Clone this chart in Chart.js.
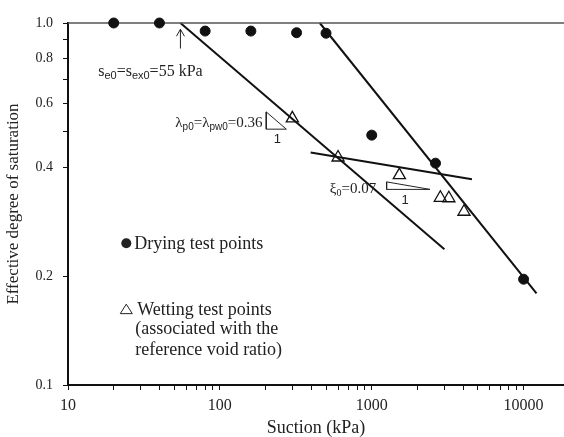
<!DOCTYPE html>
<html>
<head>
<meta charset="utf-8">
<script src="https://cdn.jsdelivr.net/npm/chart.js@4.4.1/dist/chart.umd.min.js"></script>
<style>
  html, body { margin: 0; padding: 0; background: #fff; }
</style>
</head>
<body>
<canvas id="chart" width="564" height="437"></canvas>
<script>
// drying test points (filled circles)
const dryX = [20, 40, 80, 160, 320, 500, 1000, 2630, 10000];
const dryY = [1.0, 1.0, 0.95, 0.95, 0.94, 0.937, 0.49, 0.41, 0.196];

// wetting test points (open triangles)
const wetX = [300, 600, 1520, 2830, 3220, 4050];
const wetY = [0.545, 0.425, 0.38, 0.329, 0.328, 0.301];

// fitted lines (end points)
const topLineX = [10, 18450];
const topLineY = [1.0, 1.0];
const lambdaX = [55, 3010];
const lambdaY = [1.0, 0.237];
const xiX = [396, 4570];
const xiY = [0.439, 0.370];
const dryLineX = [455, 12160];
const dryLineY = [1.0, 0.179];

// slope triangles
const lamTriX = [202, 202, 274, 202];
const lamTriY = [0.568, 0.509, 0.509, 0.568];
const xiTriX = [1253, 1253, 2420, 1253];
const xiTriY = [0.364, 0.347, 0.347, 0.364];

// axis ticks
const xTicks = [10, 20, 30, 40, 50, 60, 70, 80, 90, 100, 200, 300, 400, 500, 600, 700, 800, 900,
                1000, 2000, 3000, 4000, 5000, 6000, 7000, 8000, 9000, 10000];
const xTickLabels = [10, 100, 1000, 10000];
const yTicks = [0.1, 0.2, 0.4, 0.5, 0.6, 0.7, 0.8, 0.9, 1.0];
const yTickLabels = [0.1, 0.2, 0.4, 0.6, 0.8, 1.0];

const serif = '"Liberation Serif", "Times New Roman", serif';
const sans = '"Liberation Sans", Arial, sans-serif';

const pts = (xs, ys) => xs.map((v, i) => ({x: v, y: ys[i]}));

const lineSet = (xs, ys, color, width) => ({
    data: pts(xs, ys),
    showLine: true,
    borderColor: color,
    borderWidth: width,
    pointRadius: 0,
    fill: false,
    clip: false,
    order: 1,
});

// text runs with subscripts: [text, size, dy, family]
function drawRuns(ctx, x, y, runs) {
    let cx = x;
    runs.forEach(([t, size, dy, fam]) => {
        ctx.font = size + 'px ' + (fam || serif);
        ctx.fillText(t, cx, y + dy);
        cx += ctx.measureText(t).width;
    });
}

const notesPlugin = {
    id: 'notes',
    afterDatasetsDraw(chart) {
        const {ctx, scales: {x, y}} = chart;
        const px = (v) => x.getPixelForValue(v);
        const py = (v) => y.getPixelForValue(v);
        ctx.save();
        ctx.fillStyle = '#222';
        ctx.strokeStyle = '#222';
        ctx.textAlign = 'left';
        ctx.textBaseline = 'alphabetic';

        // s_e0 = s_ex0 = 55 kPa
        drawRuns(ctx, px(15.8), py(0.713), [
            ['s', 16, 0], ['e0', 11, 3, sans], ['=s', 16, 0], ['ex0', 11, 3, sans], ['=55 kPa', 16, 0]
        ]);
        // arrow at air entry
        const ax = px(55), ay1 = py(0.961), ay2 = py(0.85);
        ctx.lineWidth = 1;
        ctx.beginPath();
        ctx.moveTo(ax, ay2);
        ctx.lineTo(ax, ay1);
        ctx.moveTo(ax - 4, ay1 + 7);
        ctx.lineTo(ax, ay1);
        ctx.lineTo(ax + 4, ay1 + 7);
        ctx.stroke();

        // lambda label
        drawRuns(ctx, px(50.9), py(0.517), [
            ['λ', 15, 0], ['p0', 10, 3, sans], ['=λ', 15, 0], ['pw0', 10, 3, sans], ['=0.36', 15, 0]
        ]);
        // xi label
        drawRuns(ctx, px(530), py(0.339), [
            ['ξ', 15, 0], ['0', 10, 3], ['=0.07', 15, 0]
        ]);

        ctx.textAlign = 'center';
        ctx.textBaseline = 'middle';
        ctx.font = '13px ' + sans;
        ctx.fillText('1', px(239), py(0.477));
        ctx.fillText('1', px(1656), py(0.3227));

        // legend inside plot
        ctx.textAlign = 'left';
        ctx.font = '18px ' + serif;
        const mx = px(24.2);
        ctx.beginPath();
        ctx.arc(mx, py(0.2465), 5, 0, Math.PI * 2);
        ctx.fill();
        ctx.fillText('Drying test points', px(27.3), py(0.2465) + 1);

        const ty = py(0.162);
        ctx.lineWidth = 1;
        ctx.beginPath();
        ctx.moveTo(mx, ty - 5);
        ctx.lineTo(mx + 6, ty + 4.5);
        ctx.lineTo(mx - 6, ty + 4.5);
        ctx.closePath();
        ctx.stroke();
        ctx.fillText('Wetting test points', px(28.6), ty + 1);
        ctx.fillText('(associated with the', px(27.7), py(0.1434) + 1);
        ctx.fillText('reference void ratio)', px(27.7), py(0.1255) + 1);
        ctx.restore();
    }
};

new Chart(document.getElementById('chart'), {
    type: 'scatter',
    data: {
        datasets: [
            {
                label: 'Drying test points',
                data: pts(dryX, dryY),
                pointStyle: 'circle',
                pointRadius: 5,
                backgroundColor: '#111',
                borderColor: '#111',
                clip: false,
                order: 0,
            },
            {
                label: 'Wetting test points',
                data: pts(wetX, wetY),
                pointStyle: 'triangle',
                pointRadius: 7,
                backgroundColor: 'rgba(255,255,255,0)',
                borderColor: '#111',
                borderWidth: 1.3,
                clip: false,
                order: 0,
            },
            lineSet(topLineX, topLineY, '#555', 1.5),
            lineSet(lambdaX, lambdaY, '#111', 2),
            lineSet(xiX, xiY, '#111', 2),
            lineSet(dryLineX, dryLineY, '#111', 2),
            lineSet(lamTriX, lamTriY, '#222', 1),
            lineSet(xiTriX, xiTriY, '#222', 1),
        ],
    },
    options: {
        responsive: false,
        animation: false,
        layout: {autoPadding: false, padding: {top: 23, right: 0, bottom: 0, left: 0}},
        plugins: {
            legend: {display: false},
            tooltip: {enabled: false},
        },
        scales: {
            x: {
                type: 'logarithmic',
                min: 10,
                max: 18450,
                afterFit: (s) => { s.height = 52; s.paddingLeft = 0; s.paddingRight = 0; },
                afterBuildTicks: (s) => { s.ticks = xTicks.map((v) => ({value: v})); },
                ticks: {
                    autoSkip: false,
                    maxRotation: 0,
                    padding: 6,
                    color: '#222',
                    font: {family: serif, size: 16},
                    callback: (v) => (xTickLabels.includes(v) ? String(v) : ''),
                },
                grid: {drawOnChartArea: false, tickLength: 5, color: '#111', lineWidth: 1},
                border: {color: '#111', width: 2},
                title: {
                    display: true,
                    text: 'Suction (kPa)',
                    color: '#222',
                    font: {family: serif, size: 18, lineHeight: 1},
                    padding: {top: 0, bottom: 0},
                },
            },
            y: {
                type: 'logarithmic',
                min: 0.1,
                max: 1.0,
                afterFit: (s) => { s.width = 68; s.paddingTop = 0; s.paddingBottom = 0; },
                afterBuildTicks: (s) => { s.ticks = yTicks.map((v) => ({value: v})); },
                ticks: {
                    autoSkip: false,
                    padding: 10,
                    color: '#222',
                    font: {family: serif, size: 14},
                    callback: (v) => (yTickLabels.includes(v) ? v.toFixed(1) : ''),
                },
                grid: {drawOnChartArea: false, tickLength: 5, color: '#111', lineWidth: 1},
                border: {color: '#111', width: 2},
                title: {
                    display: true,
                    text: 'Effective degree of saturation',
                    color: '#222',
                    font: {family: serif, size: 17, lineHeight: 1},
                    padding: {top: 5, bottom: 0},
                },
            },
        },
    },
    plugins: [notesPlugin],
});
</script>
</body>
</html>
